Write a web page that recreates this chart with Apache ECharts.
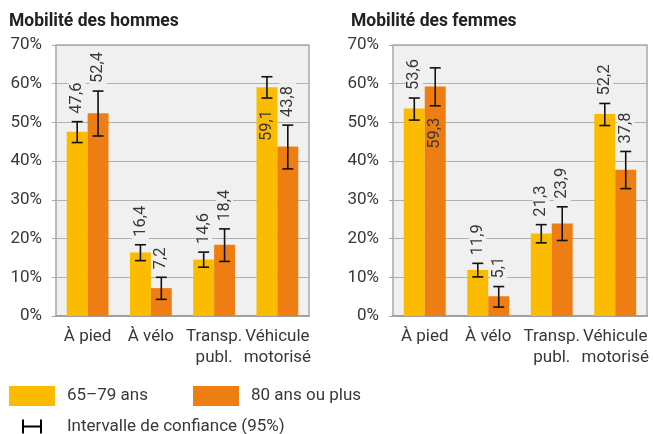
<!DOCTYPE html>
<html>
<head>
<meta charset="utf-8">
<script src="https://cdn.jsdelivr.net/npm/echarts@6/dist/echarts.min.js"></script>
<style>
  html, body { margin: 0; padding: 0; background: #fff; }
  #chart { width: 653px; height: 434px; }
</style>
</head>
<body>
<div id="chart"></div>
<script>
const categories = ['À pied', 'À vélo', 'Transp.\npubl.', 'Véhicule\nmotorisé']
const yTicks = [0, 70, 10]

// hommes
const hommes6579 = [47.6, 16.4, 14.6, 59.1]
const hommes6579Low = [44.8, 14.3, 12.6, 56.3]
const hommes6579High = [50.2, 18.4, 16.5, 61.8]
const hommes80 = [52.4, 7.2, 18.4, 43.8]
const hommes80Low = [46.5, 4.3, 14.1, 38.0]
const hommes80High = [58.1, 10.0, 22.5, 49.3]

// femmes
const femmes6579 = [53.6, 11.9, 21.3, 52.2]
const femmes6579Low = [50.6, 10.1, 18.9, 49.2]
const femmes6579High = [56.3, 13.6, 23.6, 54.9]
const femmes80 = [59.3, 5.1, 23.9, 37.8]
const femmes80Low = [54.3, 2.3, 19.5, 32.9]
const femmes80High = [64.1, 7.6, 28.2, 42.5]

const YELLOW = '#FABB00'
const ORANGE = '#EE7D14'
const TEXT = '#383838'
const FONT = 'Roboto, "Noto Sans", sans-serif'
const CAT_GAP = 0.34
const CI_NAME = 'Intervalle de confiance (95%)'

const fmt = (v) => String(v).replace('.', ',')

const grids = [
  { left: 56, top: 45, width: 253, height: 271 },
  { left: 393, top: 45, width: 254, height: 271 }
]

const errorSeries = (idx, vals, low, high, side) => ({
  type: 'custom',
  name: CI_NAME,
  xAxisIndex: idx,
  yAxisIndex: idx,
  z: 5,
  itemStyle: { color: '#000' },
  data: vals.map((v, i) => [i, low[i], high[i], v]),
  renderItem: (params, api) => {
    const c = api.coord([api.value(0), 0])
    const band = api.size([1, 0])[0]
    const bw = (band * (1 - CAT_GAP)) / 2
    const x = c[0] + (side * bw) / 2
    const yTop = api.coord([api.value(0), api.value(2)])[1]
    const yBot = api.coord([api.value(0), api.value(1)])[1]
    const cap = 5.5
    const txt = fmt(api.value(3))
    const txtLen = txt.length * 8
    const inside = yTop - 8 - txtLen < grids[idx].top
    const stroke = { stroke: '#111', lineWidth: 1.6 }
    return {
      type: 'group',
      children: [
        { type: 'line', shape: { x1: x, y1: yTop, x2: x, y2: yBot }, style: stroke },
        { type: 'line', shape: { x1: x - cap, y1: yTop, x2: x + cap, y2: yTop }, style: stroke },
        { type: 'line', shape: { x1: x - cap, y1: yBot, x2: x + cap, y2: yBot }, style: stroke },
        {
          type: 'text',
          x: x,
          y: inside ? yBot + 9 : yTop - 5,
          rotation: Math.PI / 2,
          z2: 10,
          style: {
            text: txt,
            align: inside ? 'right' : 'left',
            verticalAlign: 'middle',
            font: '16.5px ' + FONT,
            fill: TEXT,
            backgroundColor: inside ? 'transparent' : '#f0f0f0',
            padding: [0, 3]
          }
        }
      ]
    }
  }
})

const barSeries = (idx, name, data, color) => ({
  type: 'bar',
  name: name,
  xAxisIndex: idx,
  yAxisIndex: idx,
  data: data,
  barGap: 0,
  barCategoryGap: CAT_GAP * 100 + '%',
  itemStyle: { color: color }
})

const chart = echarts.init(document.getElementById('chart'))

const titleStyle = { fontSize: 17.5, fontWeight: 'bold', color: '#222' }

const option = {
  animation: false,
  textStyle: { fontFamily: FONT },
  title: [
    { text: 'Mobilité des hommes', left: 9, top: 13, padding: 0, textStyle: titleStyle },
    { text: 'Mobilité des femmes', left: 351, top: 13, padding: 0, textStyle: titleStyle }
  ],
  legend: [
    {
      left: 9,
      top: 386,
      padding: 0,
      itemWidth: 46,
      itemHeight: 20,
      itemGap: 45,
      icon: 'rect',
      data: ['65–79 ans', '80 ans ou plus'],
      textStyle: { fontSize: 17, color: TEXT, padding: [0, 0, 0, 7] }
    },
    {
      left: 22,
      top: 418,
      padding: 0,
      itemWidth: 20,
      itemHeight: 14,
      data: [{ name: CI_NAME, icon: 'path://M0,0h2v14h-2z M2,6h16v2h-16z M18,0h2v14h-2z' }],
      textStyle: { fontSize: 17, color: TEXT, padding: [0, 0, 0, 20] }
    }
  ],
  grid: grids.map((g) => ({
    ...g,
    show: true,
    backgroundColor: '#f0f0f0',
    borderColor: '#a8a8a8',
    borderWidth: 1.5
  })),
  xAxis: [0, 1].map((i) => ({
    type: 'category',
    gridIndex: i,
    data: categories,
    axisTick: { show: false },
    axisLine: { lineStyle: { color: '#a0a0a0', width: 2 } },
    axisLabel: { color: TEXT, fontSize: 17, lineHeight: 21, margin: 10, interval: 0 }
  })),
  yAxis: [0, 1].map((i) => ({
    type: 'value',
    gridIndex: i,
    min: yTicks[0],
    max: yTicks[1],
    interval: yTicks[2],
    axisLine: { show: false },
    axisTick: { show: true, length: 4, lineStyle: { color: '#a8a8a8' } },
    axisLabel: { color: TEXT, fontSize: 17, margin: 14, formatter: '{value}%' },
    splitLine: { lineStyle: { color: '#b0b0b0', width: 1 } }
  })),
  series: [
    barSeries(0, '65–79 ans', hommes6579, YELLOW),
    barSeries(0, '80 ans ou plus', hommes80, ORANGE),
    barSeries(1, '65–79 ans', femmes6579, YELLOW),
    barSeries(1, '80 ans ou plus', femmes80, ORANGE),
    errorSeries(0, hommes6579, hommes6579Low, hommes6579High, -1),
    errorSeries(0, hommes80, hommes80Low, hommes80High, 1),
    errorSeries(1, femmes6579, femmes6579Low, femmes6579High, -1),
    errorSeries(1, femmes80, femmes80Low, femmes80High, 1)
  ]
}

chart.setOption(option)
</script>
</body>
</html>
